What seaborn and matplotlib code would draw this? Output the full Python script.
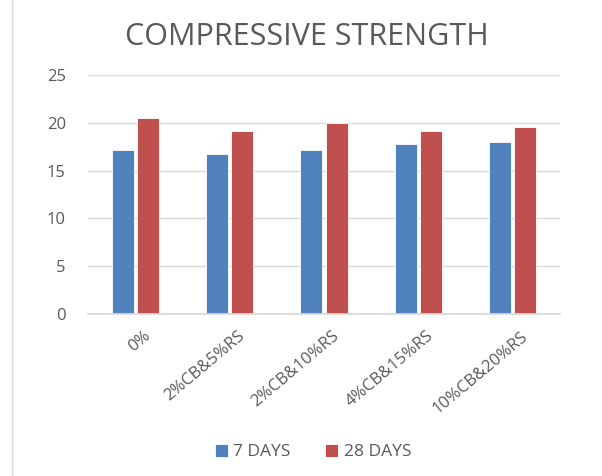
import matplotlib
matplotlib.use("Agg")
import matplotlib.pyplot as plt
import matplotlib.transforms as mtransforms
import seaborn as sns
import pandas as pd
from matplotlib.patches import Rectangle

categories = ["0%", "2%CB&5%RS", "2%CB&10%RS", "4%CB&15%RS", "10%CB&20%RS"]
days7 = [17.1, 16.7, 17.1, 17.8, 18.0]
days28 = [20.5, 19.1, 20.0, 19.1, 19.5]
series = ["7 DAYS", "28 DAYS"]
colors = ["#4F81BD", "#C0504D"]

df = pd.DataFrame({
    "cat": categories * 2,
    "val": days7 + days28,
    "series": [series[0]] * len(categories) + [series[1]] * len(categories),
})

sns.set_theme(style="white")
plt.rcParams['font.family'] = ['Open Sans', 'DejaVu Sans']

fig = plt.figure(figsize=(6.02, 4.76), dpi=100)
ax = fig.add_axes([88/602, 1 - 314.3/476, 472/602, (314.3-74.7)/476])

sns.barplot(data=df, x="cat", y="val", hue="series", palette=colors,
            width=0.53, gap=0.12, ax=ax, saturation=1, legend=True,
            edgecolor="white", linewidth=0.6)

ax.set_ylim(0, 25)
ax.set_yticks([0, 5, 10, 15, 20, 25])
ax.set_xlim(-0.5, 4.5)
ax.grid(axis="y", color="#D9D9D9", linewidth=1)
ax.set_axisbelow(True)
for s in ["top", "right", "left"]:
    ax.spines[s].set_visible(False)
ax.spines["bottom"].set_color("#D9D9D9")
ax.set_xlabel("")
ax.set_ylabel("")
ax.tick_params(axis="both", length=0, colors="#595959")
ax.tick_params(axis="y", pad=16, labelsize=12)
ax.tick_params(axis="x", pad=10, labelsize=12)
offset = mtransforms.ScaledTranslation(8/100, 0, fig.dpi_scale_trans)
for lab in ax.get_xticklabels():
    lab.set_rotation(40)
    lab.set_ha("right")
    lab.set_rotation_mode("anchor")
    lab.set_transform(lab.get_transform() + offset)

fig.text(0.51, 1 - 37/476, "COMPRESSIVE STRENGTH", ha="center", va="center",
         fontsize=22, color="#595959", fontweight="medium")

h, l = ax.get_legend_handles_labels()
ax.legend_.remove()
fig.legend(h, l, loc="center", bbox_to_anchor=(0.52, 1 - 452/476), ncol=2,
           frameon=False, fontsize=12.5, handlelength=0.75, handleheight=0.75,
           columnspacing=2.0, handletextpad=0.3, labelcolor="#595959")

fig.patches.append(Rectangle((12/602, -0.01), 1.2, 1.2, transform=fig.transFigure,
                             fill=False, edgecolor="#D9D9D9", linewidth=1))

fig.savefig("out.png", dpi=100)
